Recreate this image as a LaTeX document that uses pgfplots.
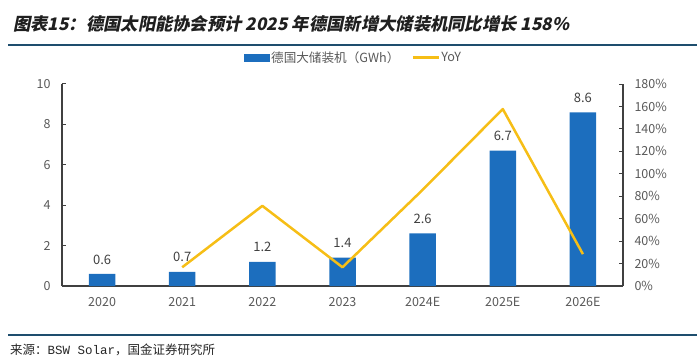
\documentclass[border=0pt]{standalone}
\usepackage{fontspec}
\usepackage{pgfplots}
\pgfplotsset{compat=1.18}
\setmainfont{Noto Sans CJK SC}
\newfontfamily\titlefont{Noto Sans CJK SC}[FakeSlant=0.2]
\newfontfamily\srcfont{Liberation Mono}
\definecolor{barblue}{RGB}{28,110,190}
\definecolor{lineyellow}{RGB}{246,190,22}
\definecolor{tickgray}{RGB}{89,89,89}
\definecolor{labgray}{RGB}{64,64,64}
\definecolor{rulecol}{RGB}{30,78,110}
\begin{document}
\begin{tikzpicture}
\useasboundingbox (0pt,0pt) rectangle (700pt,-363pt);
\node[anchor=base west, inner sep=0pt, text=black!88] at (13pt,-31pt)
  {\titlefont\bfseries\fontsize{17.3}{20}\selectfont 图表15：德国太阳能协会预计 2025 年德国新增大储装机同比增长 158\%};
\draw[rulecol, line width=2pt] (8pt,-45pt) -- (697pt,-45pt);
\draw[rulecol, line width=2pt] (8pt,-335pt) -- (697pt,-335pt);
\node[anchor=west, inner sep=0pt, text=black!85] at (10pt,-350pt)
  {\fontsize{12.5}{14}\selectfont 来源：{\srcfont BSW Solar}，国金证券研究所};

\begin{axis}[
  at={(62pt,-286pt)}, anchor=south west,
  scale only axis, width=561pt, height=202pt,
  xmin=-0.5, xmax=6.5, ymin=0, ymax=10,
  axis x line*=bottom, axis y line*=left,
  axis line style={draw=labgray, line width=1.1pt},
  xtick={0,...,6},
  xticklabels={2020,2021,2022,2023,2024E,2025E,2026E},
  xtick style={draw=none},
  ytick={0,2,...,10},
  tick align=inside, major tick length=4pt,
  ytick style={draw=labgray, line width=1pt},
  tick label style={font=\fontsize{12.5}{14}\selectfont, text=tickgray},
  /pgf/number format/assume math mode=true,
  xticklabel style={yshift=-4pt},
  yticklabel style={xshift=-8pt},
  ybar, bar width=26.5pt,
  nodes near coords={\pgfmathprintnumber[fixed,fixed zerofill,precision=1,assume math mode=true]{\pgfplotspointmeta}},
  nodes near coords style={anchor=south, inner sep=0pt, yshift=9.5pt, text=labgray, font=\fontsize{13}{15}\selectfont},
  legend columns=2,
  legend style={at={(0.519,1.131)}, anchor=center, draw=none, fill=none,
    font=\fontsize{12.6}{14}\selectfont, text=tickgray,
    nodes={inner xsep=1pt, inner ysep=1pt},
    /tikz/every even column/.append style={column sep=11pt}},
]
\addplot[fill=barblue, draw=none,
  legend image code/.code={\fill[barblue] (0pt,-4pt) rectangle (26pt,4pt);}]
  coordinates {(0,0.6) (1,0.7) (2,1.2) (3,1.4) (4,2.6) (5,6.7) (6,8.6)};
\addlegendentry{德国大储装机（GWh）}
\addlegendimage{legend image code/.code={\draw[lineyellow, line width=3pt] (0pt,0pt) -- (26pt,0pt);}}
\addlegendentry{YoY}
\end{axis}

\begin{axis}[
  at={(62pt,-286pt)}, anchor=south west,
  scale only axis, width=561pt, height=202pt,
  xmin=-0.5, xmax=6.5, ymin=0, ymax=180,
  axis x line=none, axis y line*=right,
  axis line style={draw=labgray, line width=1.1pt},
  ytick={0,20,...,180},
  yticklabel={\pgfmathprintnumber{\tick}\%},
  tick align=inside, major tick length=4pt,
  ytick style={draw=labgray, line width=1pt},
  tick label style={font=\fontsize{12.5}{14}\selectfont, text=tickgray},
  /pgf/number format/assume math mode=true,
  yticklabel style={xshift=8pt},
]
\addplot[lineyellow, line width=2.5pt, line join=round, mark=none]
  coordinates {(1,16.7) (2,71.4) (3,16.7) (4,85.7) (5,157.7) (6,28.4)};
\end{axis}
\end{tikzpicture}
\end{document}
